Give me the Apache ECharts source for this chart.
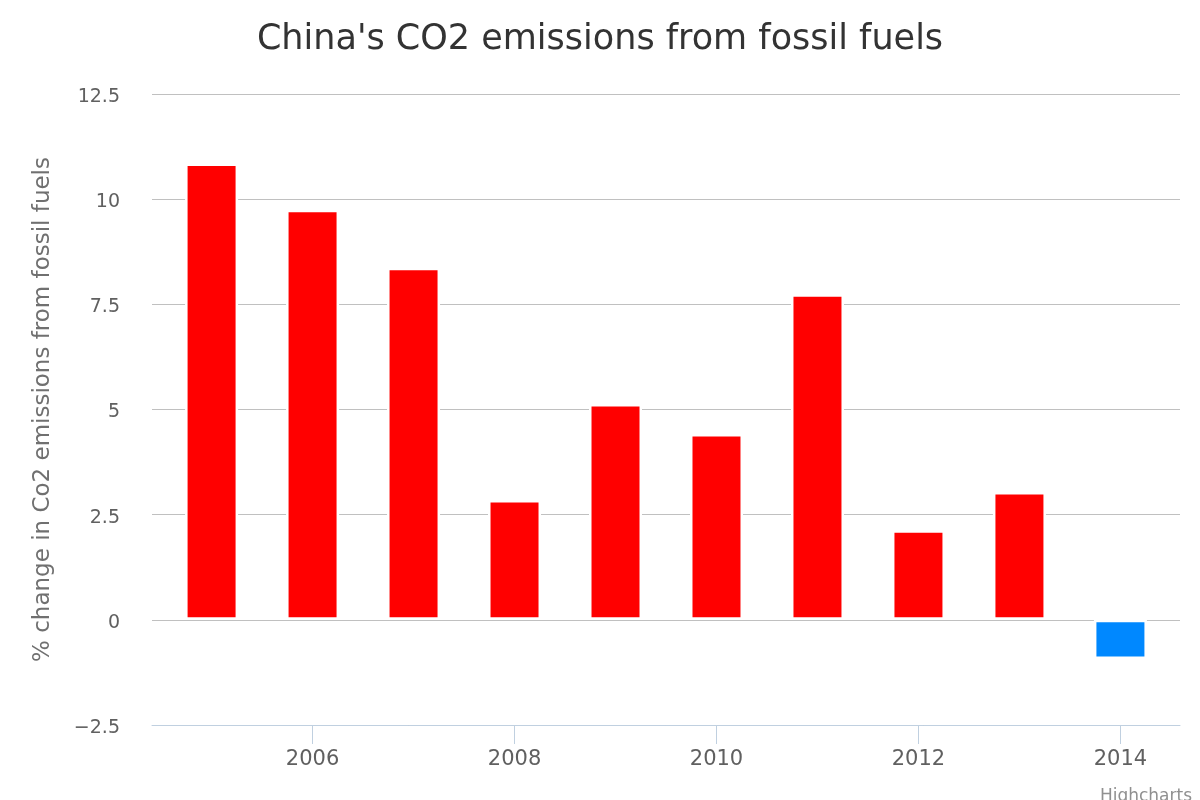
<!DOCTYPE html>
<html>
<head>
<meta charset="utf-8">
<script src="https://cdn.jsdelivr.net/npm/echarts@6/dist/echarts.min.js"></script>
<style>
html,body{margin:0;padding:0;background:#fff;}
#chart{width:1200px;height:800px;}
</style>
</head>
<body>
<div id="chart"></div>
<script>
const years = [2005, 2006, 2007, 2008, 2009, 2010, 2011, 2012, 2013, 2014];
const changes = [10.85, 9.75, 8.37, 2.85, 5.13, 4.42, 7.74, 2.13, 3.04, -0.93];
const xTickLabels = [2006, 2008, 2010, 2012, 2014];
const yTicks = [-2.5, 0, 2.5, 5, 7.5, 10, 12.5];

const FONT = "'DejaVu Sans', 'Lucida Grande', Verdana, sans-serif";
const chart = echarts.init(document.getElementById('chart'), null, {renderer: 'canvas'});
chart.setOption({
  animation: false,
  backgroundColor: '#ffffff',
  textStyle: {fontFamily: FONT},
  title: {
    text: "China's CO2 emissions from fossil fuels",
    left: 'center',
    top: 17,
    textStyle: {fontFamily: FONT, fontSize: 35, fontWeight: 'normal', color: '#333333'}
  },
  grid: {left: 152, right: 20, top: 94, bottom: 75, containLabel: false},
  xAxis: {
    type: 'value',
    min: 2004.41,
    max: 2014.59,
    z: 5,
    axisLine: {show: true, onZero: false, lineStyle: {color: '#C0D0E0', width: 1}},
    axisTick: {show: true, length: 19, customValues: xTickLabels, lineStyle: {color: '#C0D0E0', width: 1}},
    axisLabel: {customValues: xTickLabels, color: '#606060', fontSize: 21, fontFamily: FONT, margin: 24,
      formatter: v => String(v)},
    splitLine: {show: false}
  },
  yAxis: {
    type: 'value',
    min: yTicks[0],
    max: yTicks[yTicks.length - 1],
    interval: 2.5,
    axisLine: {show: false},
    axisTick: {show: false},
    splitLine: {lineStyle: {color: '#C0C0C0', width: 1}},
    axisLabel: {color: '#606060', fontSize: 19, fontFamily: FONT, margin: 32,
      verticalAlign: 'top', lineHeight: 6,
      formatter: v => String(v).replace('-', '\u2212')},
    name: '% change in Co2 emissions from fossil fuels',
    nameLocation: 'middle',
    nameGap: 97,
    nameRotate: 90,
    nameTextStyle: {color: '#707070', fontSize: 23, fontFamily: FONT}
  },
  series: [{
    type: 'bar',
    data: years.map((y, i) => [y, changes[i]]),
    barWidth: 53,
    itemStyle: {
      color: p => p.value[1] < 0 ? '#0088FF' : '#FF0000',
      borderColor: '#ffffff',
      borderWidth: 2.5
    }
  }],
  graphic: [{
    type: 'text',
    right: 8,
    top: 788,
    style: {text: 'Highcharts', fill: '#909090', fontSize: 17, fontFamily: FONT}
  }]
});
</script>
</body>
</html>
